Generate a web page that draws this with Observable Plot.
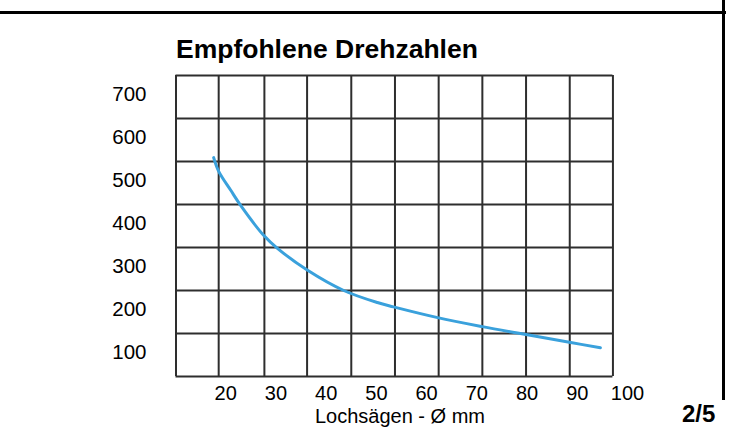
<!DOCTYPE html>
<html><head><meta charset="utf-8">
<script src="https://cdn.jsdelivr.net/npm/d3@7"></script>
<script src="https://cdn.jsdelivr.net/npm/@observablehq/plot@0.6"></script>
<style>
body{margin:0;background:#fff;}
#wrap{position:relative;width:731px;height:428px;overflow:hidden;font-family:"Liberation Sans",Arial,Helvetica,sans-serif;color:#000;}
#wrap svg{position:absolute;left:0;top:0;}
.abs{position:absolute;line-height:1;white-space:nowrap;}
#title{left:176px;top:36px;font-size:26.5px;font-weight:bold;}
#xlabel{left:300px;width:200px;text-align:center;top:406px;font-size:20px;}
#page{left:682px;top:402px;font-size:24px;font-weight:bold;}
#topline{position:absolute;left:0;top:11px;width:726px;height:3px;background:#000;}
#rightline{position:absolute;left:722px;top:0;width:3px;height:400px;background:#000;}
</style></head>
<body><div id="wrap">
<div id="topline"></div><div id="rightline"></div>
<div class="abs" id="title">Empfohlene Drehzahlen</div>
<div class="abs" id="xlabel">Lochsägen - Ø mm</div>
<div class="abs" id="page">2/5</div>
</div>
<script>
// hole saw diameter (mm) and recommended speed (rpm)
const diameters = [17.6, 18.6, 21.0, 22.9, 27.5, 30.3, 36.3, 43.5, 50.2, 53.4, 62.2, 71.1, 78.1, 88.7, 94.6];
const speeds    = [509, 477, 433, 399, 329, 298, 247, 200, 172, 162, 137, 116, 101, 79, 67];
const xTicks = [20, 30, 40, 50, 60, 70, 80, 90, 100];
const yTicks = [100, 200, 300, 400, 500, 600, 700];
const gridX = [10.1, 18.6, 27.7, 36.2, 45.0, 53.7, 62.4, 71.1, 79.8, 88.5, 97.1];
const gridY = [0, 100, 200, 300, 400, 500, 600, 700];

const data = diameters.map((d, i) => ({d, r: speeds[i]}));
const gridColor = "#2e2e2e";

const chart = Plot.plot({
  width: 731, height: 428,
  marginLeft: 175, marginRight: 104, marginTop: 75, marginBottom: 52,
  style: {fontFamily: '"Liberation Sans", Arial, sans-serif', fontSize: "20px", color: "#000", background: "transparent", overflow: "visible"},
  x: {domain: [10, 100]},
  y: {domain: [0, 700]},
  marks: [
    Plot.ruleX(gridX, {y1: 0, y2: 700, stroke: gridColor, strokeWidth: 2}),
    Plot.ruleY(gridY, {x1: gridX[0], x2: gridX[gridX.length - 1], stroke: gridColor, strokeWidth: 2}),
    Plot.line(data, {x: "d", y: "r", stroke: "#3aa1dc", strokeWidth: 3, curve: "catmull-rom"}),
    Plot.axisX({ticks: xTicks, tickSize: 0, tickPadding: 9, label: null, fontSize: 20}),
    Plot.axisY({ticks: yTicks, tickSize: 0, tickPadding: 29, dy: 19, label: null, fontSize: 20.5})
  ]
});
document.getElementById("wrap").prepend(chart);
</script>
</body></html>
